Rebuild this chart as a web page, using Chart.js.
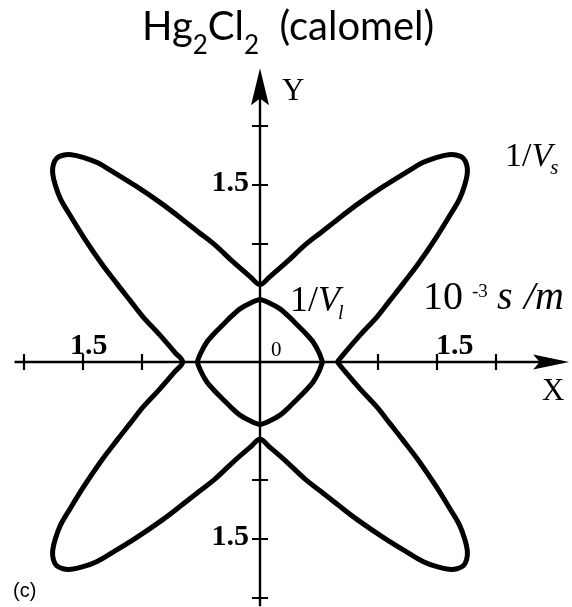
<!DOCTYPE html>
<html>
<head>
<meta charset="utf-8">
<script src="https://cdn.jsdelivr.net/npm/chart.js@4.4.1/dist/chart.umd.min.js"></script>
<style>
  html, body { margin: 0; padding: 0; background: #fff; }
  #wrap { width: 572px; height: 607px; position: relative; }
</style>
</head>
<body>
<div id="wrap"><canvas id="slowness"></canvas></div>
<script>
// slowness curves in the XY plane, 10^-3 s/m
const outerX = [
  0.655, 0.72, 0.85, 0.99, 1.10, 1.21, 1.34, 1.49, 1.62, 1.69, 1.735, 1.757, 1.752, 1.725, 1.67, 1.60, 1.50, 1.38, 1.26, 1.05, 0.83, 0.66, 0.52, 0.38, 0.23, 0.08, 0,
  -0.08, -0.23, -0.38, -0.52, -0.66, -0.83, -1.05, -1.26, -1.38, -1.50, -1.60, -1.67, -1.725, -1.752, -1.757, -1.735, -1.69, -1.62, -1.49, -1.34, -1.21, -1.10, -0.99, -0.85, -0.72, -0.655,
  -0.72, -0.85, -0.99, -1.10, -1.21, -1.34, -1.49, -1.62, -1.69, -1.735, -1.757, -1.752, -1.725, -1.67, -1.60, -1.50, -1.38, -1.26, -1.05, -0.83, -0.66, -0.52, -0.38, -0.23, -0.08, 0,
  0.08, 0.23, 0.38, 0.52, 0.66, 0.83, 1.05, 1.26, 1.38, 1.50, 1.60, 1.67, 1.725, 1.752, 1.757, 1.735, 1.69, 1.62, 1.49, 1.34, 1.21, 1.10, 0.99, 0.85, 0.72, 0.655
];
const outerY = [
  0, 0.08, 0.23, 0.38, 0.52, 0.66, 0.83, 1.05, 1.26, 1.38, 1.50, 1.60, 1.67, 1.725, 1.752, 1.757, 1.735, 1.69, 1.62, 1.49, 1.34, 1.21, 1.10, 0.99, 0.85, 0.72, 0.655,
  0.72, 0.85, 0.99, 1.10, 1.21, 1.34, 1.49, 1.62, 1.69, 1.735, 1.757, 1.752, 1.725, 1.67, 1.60, 1.50, 1.38, 1.26, 1.05, 0.83, 0.66, 0.52, 0.38, 0.23, 0.08, 0,
  -0.08, -0.23, -0.38, -0.52, -0.66, -0.83, -1.05, -1.26, -1.38, -1.50, -1.60, -1.67, -1.725, -1.752, -1.757, -1.735, -1.69, -1.62, -1.49, -1.34, -1.21, -1.10, -0.99, -0.85, -0.72, -0.655,
  -0.72, -0.85, -0.99, -1.10, -1.21, -1.34, -1.49, -1.62, -1.69, -1.735, -1.757, -1.752, -1.725, -1.67, -1.60, -1.50, -1.38, -1.26, -1.05, -0.83, -0.66, -0.52, -0.38, -0.23, -0.08, 0
];
const innerX = [
  0.53, 0.50, 0.45, 0.38, 0.315, 0.25, 0.17, 0.08, 0,
  -0.08, -0.17, -0.25, -0.315, -0.38, -0.45, -0.50, -0.53,
  -0.50, -0.45, -0.38, -0.315, -0.25, -0.17, -0.08, 0,
  0.08, 0.17, 0.25, 0.315, 0.38, 0.45, 0.50, 0.53
];
const innerY = [
  0, 0.08, 0.17, 0.25, 0.315, 0.38, 0.45, 0.50, 0.53,
  0.50, 0.45, 0.38, 0.315, 0.25, 0.17, 0.08, 0,
  -0.08, -0.17, -0.25, -0.315, -0.38, -0.45, -0.50, -0.53,
  -0.50, -0.45, -0.38, -0.315, -0.25, -0.17, -0.08, 0
];
const xTicks = [-2, -1.5, -1, 1, 1.5, 2];
const yTicks = [-2, -1.5, -1, 1, 1.5, 2];
const labelledTicks = [-1.5, 1.5];

// axis extents (arrow tips at the positive ends)
const xAxisFrom = -2.08, xAxisTo = 2.62;
const yAxisFrom = -2.07, yAxisTo = 2.49;

const SERIF = '"Liberation Serif", "Times New Roman", serif';

function toPoints(xs, ys) {
  return xs.map((v, i) => ({ x: v, y: ys[i] }));
}

function arrowHead(ctx, tipX, tipY, dx, dy, len, half) {
  // dx, dy: unit direction of the arrow
  const bx = tipX - dx * len, by = tipY - dy * len;
  const nx = -dy, ny = dx;
  ctx.beginPath();
  ctx.moveTo(tipX, tipY);
  ctx.lineTo(bx + nx * half, by + ny * half);
  ctx.lineTo(tipX - dx * len * 0.82, tipY - dy * len * 0.82);
  ctx.lineTo(bx - nx * half, by - ny * half);
  ctx.closePath();
  ctx.fill();
}

const crossAxes = {
  id: 'crossAxes',
  beforeDatasetsDraw(chart) {
    const { ctx, scales: { x, y } } = chart;
    const x0 = x.getPixelForValue(0), y0 = y.getPixelForValue(0);
    ctx.save();
    ctx.strokeStyle = '#000';
    ctx.fillStyle = '#000';
    ctx.lineWidth = 2.4;

    const xl = x.getPixelForValue(xAxisFrom), xr = x.getPixelForValue(xAxisTo);
    const yb = y.getPixelForValue(yAxisFrom), yt = y.getPixelForValue(yAxisTo);
    ctx.beginPath();
    ctx.moveTo(xl, y0); ctx.lineTo(xr - 20, y0);
    ctx.moveTo(x0, yb); ctx.lineTo(x0, yt + 20);
    ctx.stroke();
    arrowHead(ctx, xr, y0, 1, 0, 36, 7.5);
    arrowHead(ctx, x0, yt, 0, -1, 37, 9);

    ctx.lineWidth = 2.2;
    ctx.beginPath();
    xTicks.forEach(v => {
      const px = x.getPixelForValue(v);
      ctx.moveTo(px, y0 - 8); ctx.lineTo(px, y0 + 8);
    });
    yTicks.forEach(v => {
      const py = y.getPixelForValue(v);
      ctx.moveTo(x0 - 8, py); ctx.lineTo(x0 + 8, py);
    });
    ctx.stroke();
    ctx.restore();
  },
  afterDatasetsDraw(chart) {
    const { ctx, scales: { x, y } } = chart;
    const x0 = x.getPixelForValue(0), y0 = y.getPixelForValue(0);
    ctx.save();
    ctx.fillStyle = '#000';
    ctx.textBaseline = 'alphabetic';
    ctx.textAlign = 'left';

    // tick labels
    ctx.font = 'bold 30px ' + SERIF;
    labelledTicks.forEach(v => {
      const px = x.getPixelForValue(v);
      ctx.textAlign = 'left';
      ctx.fillText('1.5', px + (v < 0 ? -13 : -1), y0 - 8);
      const py = y.getPixelForValue(v);
      ctx.textAlign = 'right';
      ctx.fillText('1.5', x0 - 11, py + 6);
    });
    ctx.textAlign = 'left';
    ctx.font = '21px ' + SERIF;
    ctx.fillText('0', x0 + 11, y0 - 6);

    // axis names
    ctx.font = '31px ' + SERIF;
    ctx.fillText('Y', 282, 100);
    ctx.fillText('X', 542, 400);

    // curve names
    let cx = 290;
    ctx.font = '36px ' + SERIF;
    ctx.fillText('1/', cx, 311); cx += ctx.measureText('1/').width;
    ctx.font = 'italic 36px ' + SERIF;
    ctx.fillText('V', cx, 311); cx += ctx.measureText('V').width;
    ctx.font = 'italic 20px ' + SERIF;
    ctx.fillText('l', cx - 2, 319);

    cx = 505;
    ctx.font = '34px ' + SERIF;
    ctx.fillText('1/', cx, 166); cx += ctx.measureText('1/').width;
    ctx.font = 'italic 34px ' + SERIF;
    ctx.fillText('V', cx, 166); cx += ctx.measureText('V').width;
    ctx.font = 'italic 21px ' + SERIF;
    ctx.fillText('s', cx - 2, 174);

    // units
    ctx.font = '40px ' + SERIF;
    ctx.fillText('10', 423, 309);
    ctx.font = '19px ' + SERIF;
    ctx.fillText('-3', 472, 297);
    ctx.font = 'italic 40px ' + SERIF;
    ctx.fillText('s', 497, 309);
    ctx.fillText('/m', 524, 309);

    // title with subscripts
    const title = [['Hg', 0], ['2', 1], ['Cl', 0], ['2', 1], ['  (calomel)', 0]];
    cx = 142;
    title.forEach(([t, sub]) => {
      ctx.font = (sub ? '26px' : '40px') + ' Lato, "Open Sans", sans-serif';
      ctx.fillText(t, cx, sub ? 54 : 40);
      cx += ctx.measureText(t).width;
    });

    ctx.font = '20px "Liberation Sans", Arial, sans-serif';
    ctx.fillText('(c)', 13, 597);
    ctx.restore();
  }
};

const ctx = document.getElementById('slowness').getContext('2d');
new Chart(ctx, {
  type: 'scatter',
  data: {
    datasets: [
      {
        label: '1/Vs',
        data: toPoints(outerX, outerY),
        showLine: true,
        borderColor: '#000',
        borderWidth: 5,
        pointRadius: 0,
        tension: 0.35,
        fill: false
      },
      {
        label: '1/Vl',
        data: toPoints(innerX, innerY),
        showLine: true,
        borderColor: '#000',
        borderWidth: 5,
        pointRadius: 0,
        tension: 0.2,
        fill: false
      }
    ]
  },
  options: {
    responsive: true,
    maintainAspectRatio: false,
    animation: false,
    layout: { padding: 0 },
    plugins: {
      legend: { display: false },
      tooltip: { enabled: false }
    },
    scales: {
      x: { type: 'linear', min: -260 / 118, max: 312 / 118, display: false },
      y: { type: 'linear', min: -245 / 118, max: 362 / 118, display: false }
    }
  },
  plugins: [crossAxes]
});
</script>
</body>
</html>
